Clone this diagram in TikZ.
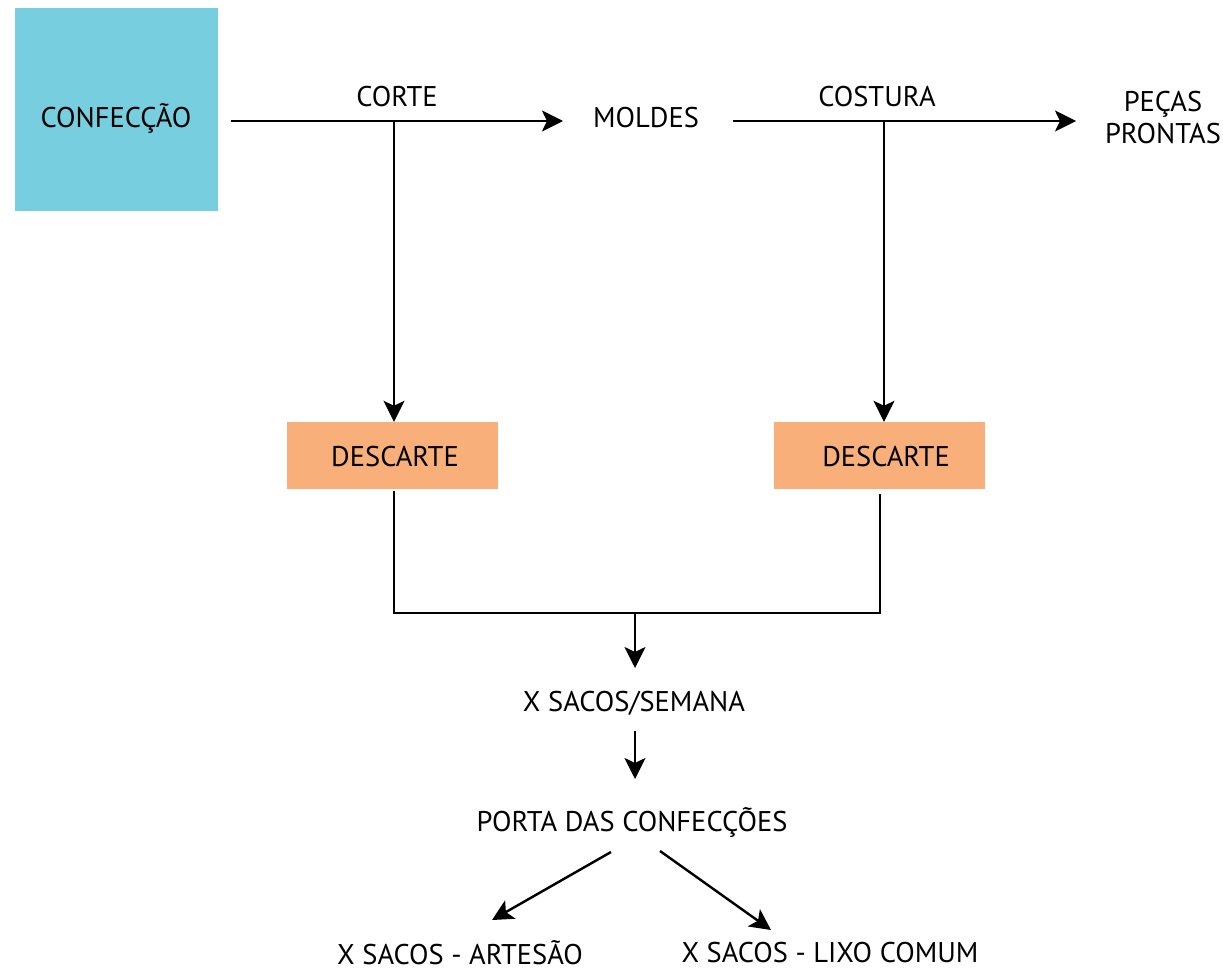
\documentclass[tikz,border=0pt]{standalone}
\usepackage{fontspec}
\setmainfont{PT Sans}
\usetikzlibrary{arrows.meta}
\definecolor{boxcyan}{HTML}{76CEDE}
\definecolor{boxorange}{HTML}{F8AF7A}
\begin{document}
\begin{tikzpicture}[x=1pt,y=-1pt,
  every node/.style={font=\fontsize{28.5}{32}\selectfont, inner sep=0pt, align=center},
  flow/.style={line width=2.4pt, -{Stealth[length=21pt,width=21pt,inset=5pt]}},
  link/.style={line width=2.4pt},
  cyanbox/.style={fill=boxcyan, minimum width=203pt, minimum height=203pt},
  discard/.style={fill=boxorange, minimum width=211pt, minimum height=67pt}]
\useasboundingbox (0,0) rectangle (1223,971);

% source box
\node[cyanbox] (conf) at (116.5,109.5) {};
\node at (116,118) {CONFECÇÃO};

% process labels
\node (corte) at (397,97) {CORTE};
\node (moldes) at (646,118) {MOLDES};
\node (costura) at (877,97) {COSTURA};
\node (pecas) at (1163,118) {PEÇAS\\PRONTAS};

% discard boxes
\node[discard] (d1) at (392,455.5) {};
\node at (395,457) {DESCARTE};
\node[discard] (d2) at (879.5,455.5) {};
\node at (886,457) {DESCARTE};

% outputs
\node (sacos) at (634,703) {X SACOS/SEMANA};
\node (porta) at (632,822) {PORTA DAS CONFECÇÕES};
\node (artesao) at (460,953) {X SACOS - ARTESÃO};
\node (lixo) at (830,953) {X SACOS - LIXO COMUM};

% connector end points
\coordinate (a1s) at (231,121);
\coordinate (a1e) at (563,121);
\coordinate (c1) at (394,121);
\coordinate (a2s) at (733,121);
\coordinate (a2e) at (1076,121);
\coordinate (c2) at (884,121);
\coordinate (l1) at (394,491);
\coordinate (r1) at (880,494);
\coordinate (mid) at (635,613);
\coordinate (midend) at (635,668);
\coordinate (s1) at (635,731);
\coordinate (s2) at (635,779);
\coordinate (p1) at (611,852);
\coordinate (p1e) at (492,920);
\coordinate (p2) at (660,851);
\coordinate (p2e) at (771,930);

% main flow
\draw[flow] (a1s) -- (a1e);
\draw[flow] (a2s) -- (a2e);
\draw[flow] (c1) -- (d1.north -| c1);
\draw[flow] (c2) -- (d2.north -| c2);

% discard collection
\draw[link] (l1) |- (mid) -| (r1);
\draw[flow] (mid) -- (midend);
\draw[flow] (s1) -- (s2);
\draw[flow] (p1) -- (p1e);
\draw[flow] (p2) -- (p2e);
\end{tikzpicture}
\end{document}
